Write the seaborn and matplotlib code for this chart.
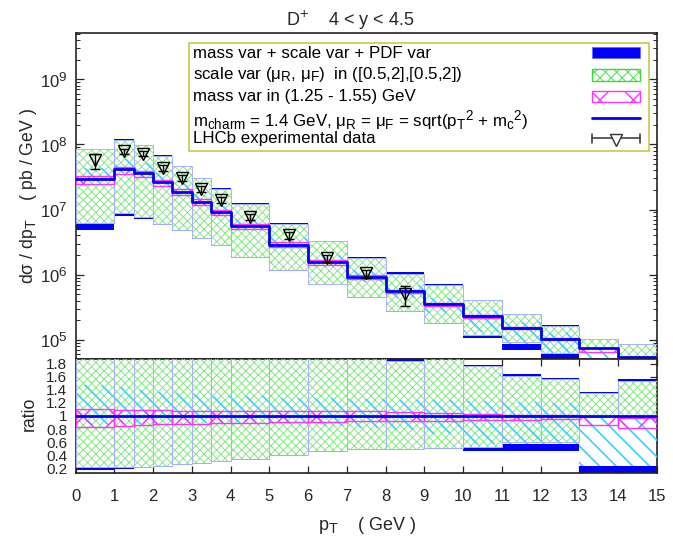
import numpy as np
import matplotlib
matplotlib.use("Agg")
import matplotlib.pyplot as plt
import seaborn as sns
from matplotlib.patches import Rectangle
from matplotlib.lines import Line2D
from matplotlib.ticker import LogLocator, FixedLocator, FormatStrFormatter, NullFormatter

try:
    # gnuplot-like sub/superscript size
    import matplotlib._mathtext as _mt
    _mt.SHRINK_FACTOR = 0.8
except Exception:
    pass

# pT binning (GeV)
bin_edges = [0, 1, 1.5, 2, 2.5, 3, 3.5, 4, 5, 6, 7, 8, 9, 10, 11, 12, 13, 14, 15]

# central prediction dsigma/dpT (pb/GeV), m_c = 1.4 GeV, mu_R = mu_F = mT
central = [2.94e7, 4.2e7, 3.64e7, 2.61e7, 1.88e7, 1.32e7, 9.2e6, 5.5e6, 2.9e6,
           1.57e6, 9.25e5, 5.56e5, 3.54e5, 2.3e5, 1.53e5, 1.04e5, 7.5e4, 5.5e4]

# uncertainty bands, relative to the central prediction
scale_hi = [2.85, 2.80, 2.65, 2.55, 2.45, 2.30, 2.25, 2.20, 2.10, 2.08, 1.95, 1.84,
            1.95, 1.76, 1.62, 1.56, 1.35, 1.54]
scale_lo = [0.21, 0.21, 0.21, 0.23, 0.26, 0.28, 0.31, 0.34, 0.40, 0.46, 0.49, 0.49,
            0.51, 0.52, 0.60, 0.60, 0.98, 0.97]
mass_hi = [1.10, 1.09, 1.09, 1.09, 1.08, 1.08, 1.08, 1.08, 1.08, 1.08, 1.08, 1.06,
           1.05, 1.03, 1.02, 1.01, 1.00, 0.97]
mass_lo = [0.83, 0.85, 0.86, 0.87, 0.88, 0.88, 0.89, 0.90, 0.91, 0.91, 0.92, 0.93,
           0.93, 0.94, 0.94, 0.95, 0.86, 0.82]
pdf_hi = [1.47, 1.44, 1.40, 1.37, 1.35, 1.33, 1.31, 1.30, 1.28, 1.27, 1.26, 1.25,
          1.24, 1.23, 1.22, 1.20, 1.00, 1.00]
pdf_lo = [0.86, 0.87, 0.88, 0.88, 0.89, 0.89, 0.90, 0.90, 0.88, 0.85, 0.82, 0.78,
          0.72, 0.57, 0.57, 0.57, 0.24, 0.24]
total_hi = [2.90, 2.85, 2.70, 2.60, 2.50, 2.35, 2.30, 2.25, 2.15, 2.12, 2.00, 2.00,
            2.00, 1.79, 1.65, 1.59, 1.37, 1.56]
total_lo = [0.165, 0.19, 0.195, 0.22, 0.25, 0.27, 0.30, 0.33, 0.39, 0.45, 0.48, 0.48,
            0.50, 0.46, 0.46, 0.46, 0.10, 0.10]

# LHCb measurement
data_pt = [0.5, 1.25, 1.75, 2.25, 2.75, 3.25, 3.75, 4.5, 5.5, 6.5, 7.5, 8.5]
data_val = [5.7e7, 7.8e7, 7.2e7, 4.35e7, 3.05e7, 2.07e7, 1.42e7, 7.7e6, 4.0e6,
            1.77e6, 1.04e6, 4.95e5]
data_err = [1.5e7, 0.7e7, 0.6e7, 0.4e7, 0.3e7, 0.2e7, 0.14e7, 0.8e6, 0.5e6,
            0.2e6, 0.15e6, 1.7e5]

ratio_ticks = [0.2, 0.4, 0.6, 0.8, 1.0, 1.2, 1.4, 1.6, 1.8]
x_ticks = list(range(0, 16))

sns.set_style("white")
plt.rcParams["font.family"] = ["Liberation Sans", "DejaVu Sans"]
plt.rcParams["mathtext.fontset"] = "custom"
plt.rcParams["mathtext.rm"] = "Liberation Sans"
plt.rcParams["mathtext.it"] = "Liberation Sans"
plt.rcParams["mathtext.default"] = "regular"
plt.rcParams["hatch.linewidth"] = 0.7

BLUE = "#0000ff"
GREEN = "#86e686"
PINK = "#ff33ff"
CYAN = "#40d2ff"
OUTLINE = "#aab2ff"

fig = plt.figure(figsize=(6.73, 5.42), dpi=100)
ax = fig.add_axes([0.1122, 0.3371, 0.8640, 0.6015])
axr = fig.add_axes([0.1122, 0.1279, 0.8640, 0.2092])

edges = np.array(bin_edges, dtype=float)
left = edges[:-1]
width = np.diff(edges)
central_arr = np.asarray(central, dtype=float)


def draw_bands(a, norm, line_vals):
    """Stacked uncertainty boxes per bin plus the central step line."""

    def bar(lo, hi, **kw):
        lo = np.asarray(lo) * norm
        hi = np.asarray(hi) * norm
        return a.bar(left, hi - lo, bottom=lo, width=width, align="edge", **kw)

    bar(total_lo, total_hi, color=BLUE, linewidth=0, zorder=1)
    bar(pdf_lo, pdf_hi, color="white", linewidth=0, zorder=2)
    bar(scale_lo, scale_hi, color="white", linewidth=0, zorder=2)
    bar(scale_lo, scale_hi, facecolor="none", edgecolor=GREEN, linewidth=0,
        hatch="xxxx", zorder=3)
    with plt.rc_context({"hatch.linewidth": 1.25}):
        bar(pdf_lo, pdf_hi, facecolor="none", edgecolor=CYAN, linewidth=0,
            hatch="\\\\", zorder=3.3)
    bar(scale_lo, scale_hi, facecolor="none", edgecolor=OUTLINE, linewidth=0.7,
        zorder=3.5)
    with plt.rc_context({"hatch.linewidth": 1.0}):
        bar(mass_lo, mass_hi, facecolor="none", edgecolor=PINK, linewidth=1.0,
            hatch="x", zorder=4)

    sns.lineplot(x=edges, y=np.append(line_vals, line_vals[-1]),
                 drawstyle="steps-post", color=BLUE, linewidth=2.0,
                 estimator=None, sort=False, ax=a, zorder=5)


draw_bands(ax, central_arr, central_arr)
draw_bands(axr, np.ones(len(central)), central_arr / central_arr)

ax.errorbar(data_pt, data_val, yerr=data_err, fmt="v", ms=8.5, mfc="none",
            mec="black", mew=1.0, ecolor="black", elinewidth=1.0, capsize=3.5,
            capthick=1.0, zorder=6)

# main panel axes
ax.set_yscale("log")
ax.set_xlim(0, 15)
ax.set_ylim(5e4, 5.1e9)
ax.yaxis.set_major_locator(LogLocator(base=10, numticks=10))
ax.yaxis.set_minor_locator(LogLocator(base=10, subs=np.arange(2, 10), numticks=20))
ax.yaxis.set_minor_formatter(NullFormatter())
ax.tick_params(axis="y", which="major", direction="in", length=6, width=0.9,
               left=True, right=True, labelsize=12, pad=6)
ax.tick_params(axis="y", which="minor", direction="in", length=3, width=0.7,
               left=True, right=True)
ax.tick_params(axis="x", which="both", bottom=False, top=False, labelbottom=False)
ax.set_xlabel("")
ax.set_ylabel("")

# ratio panel axes
axr.set_xlim(0, 15)
axr.set_ylim(0.13, 1.87)
axr.yaxis.set_major_locator(FixedLocator(ratio_ticks))
axr.yaxis.set_major_formatter(FormatStrFormatter("%g"))
axr.xaxis.set_major_locator(FixedLocator(x_ticks))
axr.tick_params(axis="y", direction="in", length=5, width=0.9, left=True, right=True,
                labelsize=11, pad=6)
axr.tick_params(axis="x", direction="in", length=5, width=0.9, bottom=True, top=True,
                labelsize=12, pad=12)
axr.set_xlabel("")
axr.set_ylabel("")

for a in (ax, axr):
    for s in a.spines.values():
        s.set_color("#222222")
        s.set_linewidth(1.2)
    a.set_facecolor("white")

# key
T = ax.transAxes
ax.add_patch(Rectangle((0.195, 0.640), 0.792, 0.331, transform=T, facecolor="white",
                       edgecolor="#c9c94e", linewidth=1.2, zorder=7))
sx0, sw = 0.888, 0.083
ax.add_patch(Rectangle((sx0, 0.923), sw, 0.034, transform=T, facecolor=BLUE,
                       edgecolor="#6a6aff", linewidth=0.6, zorder=8))
ax.add_patch(Rectangle((sx0, 0.855), sw, 0.035, transform=T, facecolor="white",
                       edgecolor="#55dd55", linewidth=0, hatch="xxx", zorder=8))
ax.add_patch(Rectangle((sx0, 0.855), sw, 0.035, transform=T, facecolor="none",
                       edgecolor="#33dd33", linewidth=1.0, zorder=8))
with plt.rc_context({"hatch.linewidth": 1.0}):
    ax.add_patch(Rectangle((sx0, 0.788), sw, 0.035, transform=T, facecolor="white",
                           edgecolor=PINK, linewidth=1.0, hatch="x", zorder=8))
ax.add_line(Line2D([sx0, sx0 + sw], [0.739, 0.739], transform=T, color=BLUE,
                   linewidth=2.0, zorder=8))
ax.add_line(Line2D([sx0, sx0 + sw], [0.678, 0.678], transform=T, color="#333333",
                   linewidth=1.1, zorder=8))
for xc in (sx0, sx0 + sw):
    ax.add_line(Line2D([xc, xc], [0.664, 0.692], transform=T, color="#333333",
                       linewidth=1.1, zorder=8))
ax.add_line(Line2D([sx0 + sw / 2], [0.672], transform=T, marker="v", ms=8.5,
                   mfc="white", mec="#333333", mew=1.0, linestyle="none", zorder=9))

key_texts = [
    (0.937, "mass var + scale var + PDF var"),
    (0.873, r"scale var ($\mu_{\rm R}$, $\mu_{\rm F}$)  in ([0.5,2],[0.5,2])"),
    (0.805, "mass var in (1.25 - 1.55) GeV"),
    (0.735, r"m$_{\rm charm}$ = 1.4 GeV, $\mu_{\rm R}$ = $\mu_{\rm F}$ = sqrt(p$_{\rm T}$$^{2}$ + m$_{\rm c}$$^{2}$)"),
    (0.677, "LHCb experimental data"),
]
for yk, s in key_texts:
    ax.text(0.202, yk, s, transform=T, ha="left", va="center", fontsize=12.2,
            color="black", zorder=9)

fig.text(350 / 673, 1 - 20 / 542, r"D$^{+}$    4 < y < 4.5", ha="center",
         va="center", fontsize=13)
fig.text(29 / 673, 1 - 196 / 542, r"d$\sigma$ / dp$_{\rm T}$    ( pb / GeV )",
         rotation=90, ha="center", va="center", fontsize=12.7)
fig.text(29 / 673, 1 - 414 / 542, "ratio", rotation=90, ha="center", va="center",
         fontsize=12.7)
fig.text(367 / 673, 1 - 525 / 542, r"p$_{\rm T}$    ( GeV )", ha="center",
         va="center", fontsize=13)

fig.savefig("out.png", dpi=100, facecolor="white")
